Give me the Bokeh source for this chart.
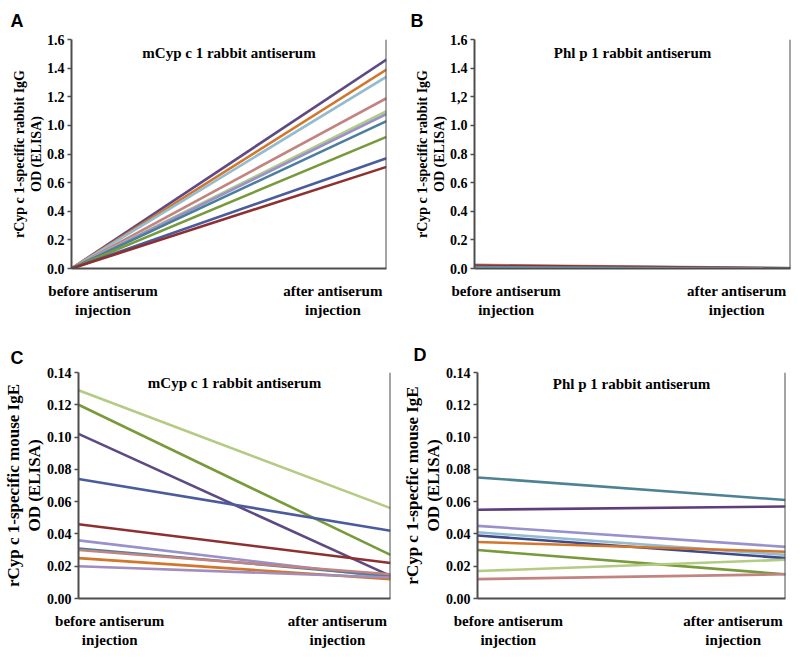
from bokeh.plotting import figure
from bokeh.models import Range1d, FixedTicker, Span, Label, Title
from bokeh.layouts import column, row
from bokeh.embed import file_html
from bokeh.resources import INLINE

# ---- data ----
stage_x = [0, 1]
stage_labels = ["before antiserum\ninjection", "after antiserum\ninjection"]
stage_label_pos = [0.1, 0.83]

ab_ticks = [0.0, 0.2, 0.4, 0.6, 0.8, 1.0, 1.2, 1.4, 1.6]
a_tick_labels = ["0.0", "0.2", "0.4", "0.6", "0.8", "1.0", "1.2", "1.4", "1.6"]
b_tick_labels = ["0.0", "0.2", "0.4", "0.6", "0.8", "1.0", "1,2", "1.4", "1.6"]
cd_ticks = [0.0, 0.02, 0.04, 0.06, 0.08, 0.10, 0.12, 0.14]
cd_tick_labels = ["0.00", "0.02", "0.04", "0.06", "0.08", "0.10", "0.12", "0.14"]

# Panel A: mCyp c 1 rabbit antiserum, IgG
a_before = [0.0, 0.0, 0.0, 0.0, 0.0, 0.0, 0.0, 0.0, 0.0, 0.0]
a_after = [1.46, 1.39, 1.34, 1.19, 1.10, 1.08, 1.03, 0.92, 0.77, 0.71]
a_colors = ["#5E4A82", "#D2762B", "#95BBCF", "#C28480", "#B3CB83",
            "#9891CC", "#4A7E9A", "#789A3A", "#4B5C9E", "#8E3030"]

# Panel B: Phl p 1 rabbit antiserum, IgG
b_before = [0.025, 0.020, 0.010, 0.004]
b_after = [0.003, 0.002, 0.001, 0.0]
b_colors = ["#C28480", "#8E3030", "#4A7E9A", "#95BBCF"]

# Panel C: mCyp c 1 rabbit antiserum, mouse IgE
c_before = [0.129, 0.120, 0.102, 0.074, 0.046, 0.036, 0.031, 0.030, 0.025, 0.020]
c_after = [0.056, 0.027, 0.014, 0.042, 0.022, 0.013, 0.014, 0.015, 0.012, 0.013]
c_colors = ["#B3CB83", "#789A3A", "#5E4A82", "#4B5C9E", "#8E3030",
            "#9891CC", "#4A7E9A", "#C28480", "#D2762B", "#A28DBD"]

# Panel D: Phl p 1 rabbit antiserum, mouse IgE
d_before = [0.075, 0.055, 0.045, 0.041, 0.039, 0.035, 0.030, 0.017, 0.012]
d_after = [0.061, 0.057, 0.032, 0.027, 0.025, 0.029, 0.015, 0.024, 0.015]
d_colors = ["#4F8195", "#5E3D78", "#9891CC", "#95BBCF", "#3E4A8A",
            "#D2762B", "#789A3A", "#B3CB83", "#C28480"]

SERIF = "Liberation Serif"
AXIS_COLOR = "#4d4d4d"


def panel(letter, title, yl1, yl2, before, after, colors, ymax, yticks, ylabels,
          borders, letter_standoff, ylab_size, ylab_offset):
    left, right, top, bottom = borders
    W, H = 400, 333
    fh = H - top - bottom
    p = figure(width=W, height=H, output_backend="svg", toolbar_location=None,
               x_range=Range1d(0, 1), y_range=Range1d(0, ymax),
               min_border_left=left, min_border_right=right,
               min_border_top=top, min_border_bottom=bottom)
    p.grid.visible = False
    p.outline_line_color = None
    p.background_fill_color = "white"
    p.border_fill_color = "white"

    for b, a, c in zip(before, after, colors):
        p.line(stage_x, [b, a], line_color=c, line_width=2.6)

    # y axis
    ya = p.yaxis[0]
    ya.ticker = FixedTicker(ticks=yticks)
    ya.major_label_overrides = {t: s for t, s in zip(yticks, ylabels)}
    ya.axis_line_color = AXIS_COLOR
    ya.axis_line_width = 2
    ya.major_tick_line_color = AXIS_COLOR
    ya.major_tick_line_width = 1.5
    ya.major_tick_out = 4
    ya.major_tick_in = 0
    ya.minor_tick_line_color = None
    ya.major_label_text_font = SERIF
    ya.major_label_text_font_style = "bold"
    ya.major_label_text_font_size = "14px"
    ya.major_label_text_color = "black"
    ya.major_label_standoff = 3

    # x axis
    xa = p.xaxis[0]
    xa.ticker = FixedTicker(ticks=stage_label_pos)
    xa.major_label_overrides = {t: s for t, s in zip(stage_label_pos, stage_labels)}
    xa.axis_line_color = AXIS_COLOR
    xa.axis_line_width = 2
    xa.major_tick_line_color = None
    xa.minor_tick_line_color = None
    xa.major_label_text_font = SERIF
    xa.major_label_text_font_style = "bold"
    xa.major_label_text_font_size = "15px"
    xa.major_label_text_color = "black"
    xa.major_label_standoff = 8

    # right border line
    p.add_layout(Span(location=1, dimension="height", line_color=AXIS_COLOR, line_width=2))

    # panel letter as the figure title
    p.title.text = letter
    p.title.align = "left"
    p.title.offset = -(left - 10)
    p.title.standoff = letter_standoff
    p.title.text_font = "Liberation Sans"
    p.title.text_font_style = "bold"
    p.title.text_font_size = "18px"
    p.title.text_line_height = 1.0
    p.title.text_color = "black"

    # inner title
    p.add_layout(Label(x=0.5, y=fh - 13, x_units="data", y_units="screen", text=title,
                       text_font=SERIF, text_font_style="bold", text_font_size="15px",
                       text_align="center", text_baseline="middle", text_color="black"))
    # y-axis label (two lines), nearest line first
    for txt in [yl2, yl1]:
        p.add_layout(Title(text=txt, align="center", offset=ylab_offset, standoff=0,
                           text_font=SERIF, text_font_style="bold",
                           text_font_size=ylab_size, text_color="black"), "left")
    return p


pa = panel("A", "mCyp c 1 rabbit antiserum", "rCyp c 1-specific rabbit IgG", "OD (ELISA)",
           a_before, a_after, a_colors, 1.6, ab_ticks, a_tick_labels,
           (71, 14, 39, 65), 17, "14px", 22)
pb = panel("B", "Phl p 1 rabbit antiserum", "rCyp c 1-specific rabbit IgG", "OD (ELISA)",
           b_before, b_after, b_colors, 1.6, ab_ticks, b_tick_labels,
           (74, 10, 39, 65), 17, "14px", 22)
pc = panel("C", "mCyp c 1 rabbit antiserum", "rCyp c 1-specific mouse IgE", "OD (ELISA)",
           c_before, c_after, c_colors, 0.14, cd_ticks, cd_tick_labels,
           (78, 10, 36, 68), 10, "17px", 55)
pd_ = panel("D", "Phl p 1 rabbit antiserum", "rCyp c 1-specfic mouse IgE", "OD (ELISA)",
            d_before, d_after, d_colors, 0.14, cd_ticks, cd_tick_labels,
            (74, 15, 39, 66), 16, "17px", 58)

layout = column(row(pa, pb), row(pc, pd_))

with open("out.html", "w") as f:
    f.write(file_html(layout, INLINE))
